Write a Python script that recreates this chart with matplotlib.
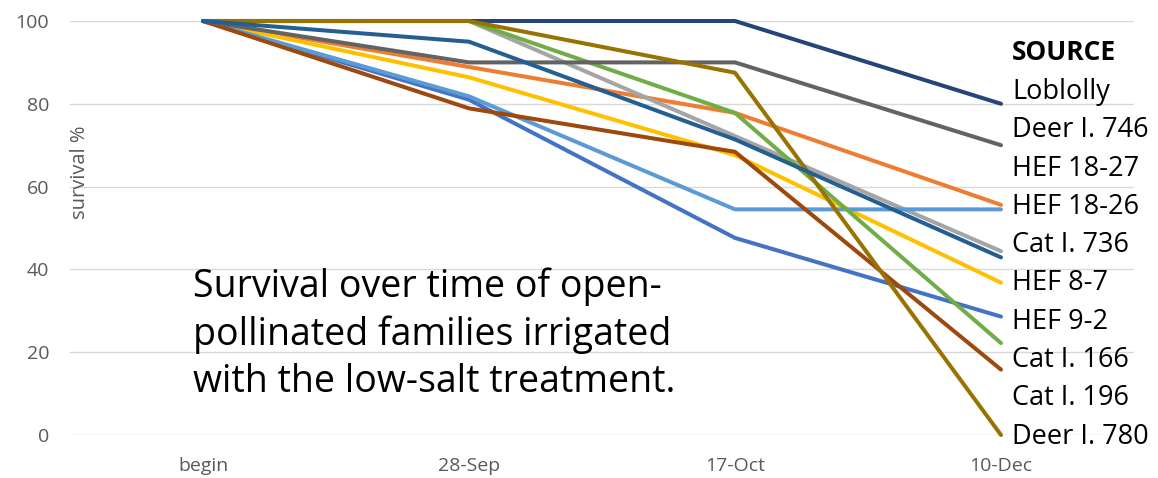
import matplotlib
matplotlib.use("Agg")
import matplotlib.pyplot as plt

plt.rcParams['font.family'] = ['Open Sans', 'DejaVu Sans']

# sampling dates
dates = ['begin', '28-Sep', '17-Oct', '10-Dec']

# survival % per family, Excel default series colours
loblolly = [100, 100, 100, 80]
deer_746 = [100, 90, 90, 70]
hef_1827 = [100, 88.9, 77.8, 55.6]
hef_1826 = [100, 81.8, 54.5, 54.5]
cat_736 = [100, 100, 72.2, 44.4]
cat_736b = [100, 95, 71.4, 42.9]
hef_87 = [100, 86.4, 67.6, 36.8]
hef_92 = [100, 81, 47.6, 28.6]
cat_166 = [100, 100, 77.8, 22.2]
cat_196 = [100, 78.9, 68.4, 15.8]
deer_780 = [100, 100, 87.5, 0]

series = [
    (hef_92, '#4472C4'),
    (hef_1827, '#ED7D31'),
    (cat_736, '#A5A5A5'),
    (hef_87, '#FFC000'),
    (hef_1826, '#5B9BD5'),
    (cat_166, '#70AD47'),
    (loblolly, '#264478'),
    (cat_196, '#9E480E'),
    (deer_746, '#636363'),
    (deer_780, '#997300'),
    (cat_736b, '#255E91'),
]

source_labels = ['Loblolly', 'Deer I. 746', 'HEF 18-27', 'HEF 18-26', 'Cat I. 736',
                 'HEF 8-7', 'HEF 9-2', 'Cat I. 166', 'Cat I. 196', 'Deer I. 780']

note_lines = ['Survival over time of open-',
              'pollinated families irrigated',
              'with the low-salt treatment.']

W, H = 1158, 478
fig = plt.figure(figsize=(W / 100, H / 100), dpi=100)
ax = fig.add_axes([70 / W, 1 - 435 / H, (1134 - 70) / W, (435 - 21) / H])

x = range(len(dates))
for vals, col in series:
    ax.plot(x, vals, color=col, lw=2.9, solid_joinstyle='round',
            solid_capstyle='round', clip_on=False, zorder=3)

ax.set_xlim(-0.5, len(dates) - 0.5)
ax.set_ylim(0, 100)
ax.set_yticks(range(0, 101, 20))
ax.set_xticks(list(x))
ax.set_xticklabels(dates)
ax.grid(axis='y', color='#D9D9D9', lw=1)
ax.set_axisbelow(True)
for s in ax.spines.values():
    s.set_visible(False)
ax.tick_params(axis='both', which='major', length=0, colors='#595959', labelsize=14)
ax.yaxis.set_tick_params(pad=15)
ax.xaxis.set_tick_params(pad=16)

fig.text(80 / W, 1 - 172 / H, 'survival %', rotation=90, ha='center', va='center',
         color='#595959', fontsize=14.5)

# family names listed beside the line ends
fig.text(1012 / W, 1 - 52 / H, 'SOURCE', fontsize=19, fontweight='bold',
         ha='left', va='center', color='black')
for i, lab in enumerate(source_labels):
    fig.text(1012 / W, 1 - (92 + i * 38.3) / H, lab, fontsize=19.5,
             ha='left', va='center', color='black')

for i, line in enumerate(note_lines):
    fig.text(193 / W, 1 - (297 + i * 47.5) / H, line, fontsize=27,
             ha='left', va='baseline', color='black')

fig.savefig('out.png', dpi=100)
